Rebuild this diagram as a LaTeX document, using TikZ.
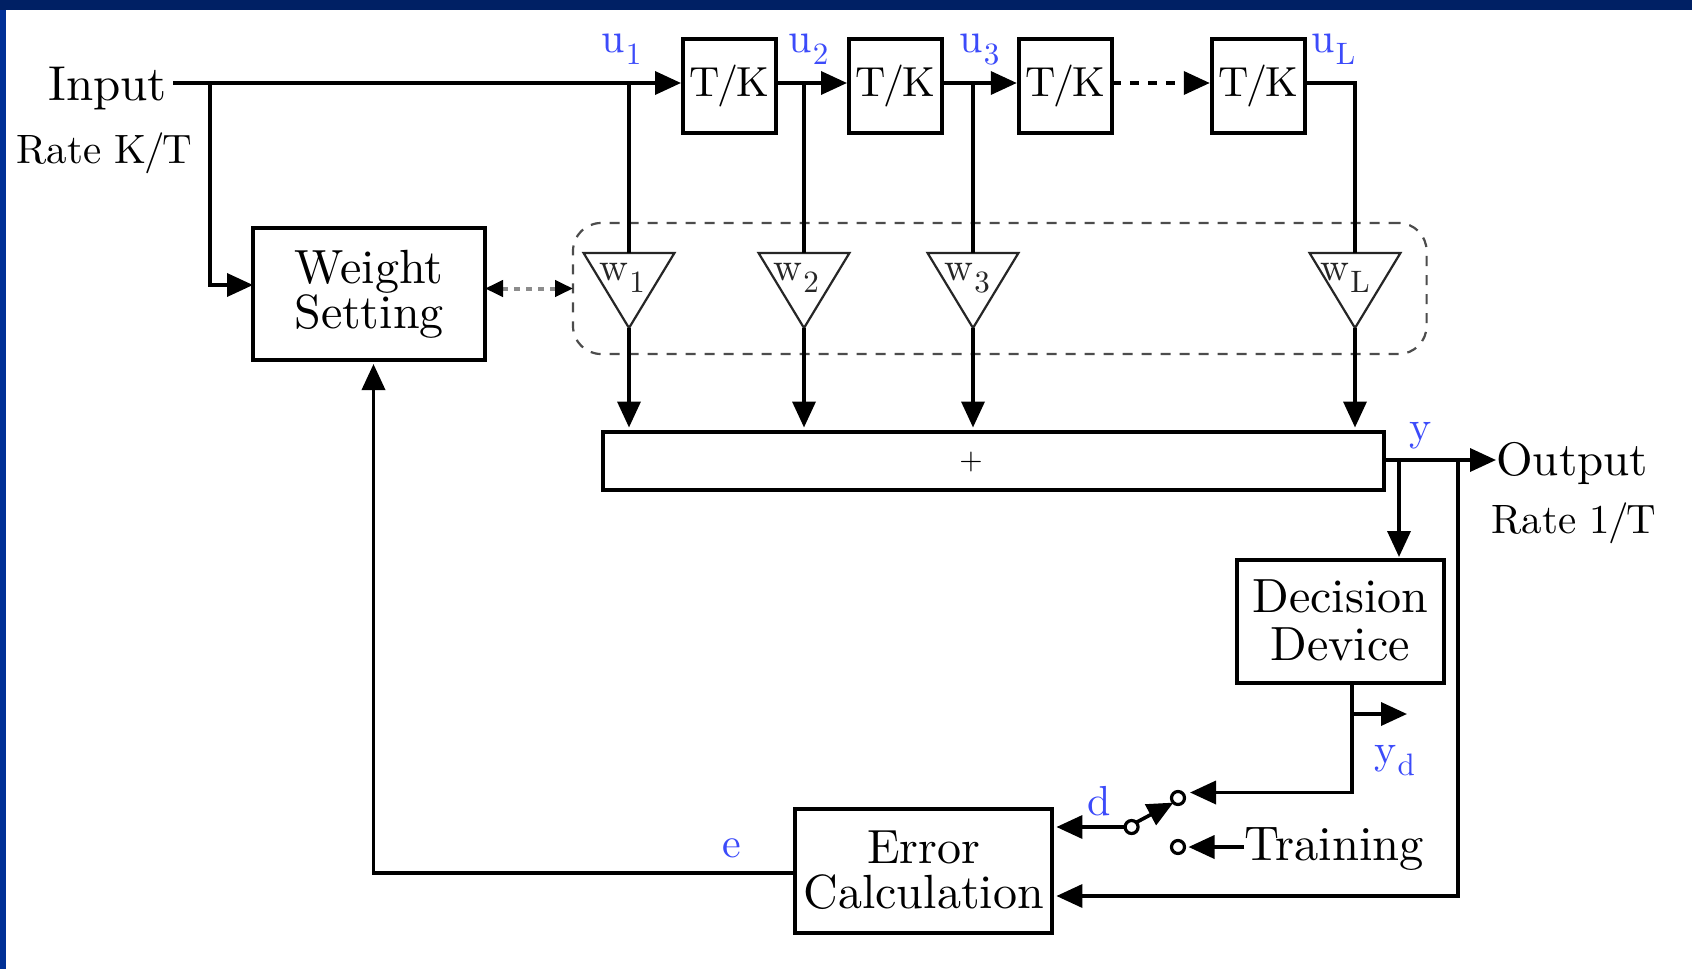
\documentclass[tikz,border=0pt]{standalone}
\usepackage{fontspec}
\setmainfont{lmroman10-regular.otf}
\usetikzlibrary{arrows.meta,shapes.geometric,calc}
\definecolor{lbl}{RGB}{60,75,250}
\newcommand{\fsz}[1]{\fontsize{#1}{#1}\selectfont}
\newcommand{\sbs}[2]{#1\kern0.5pt\raisebox{-6pt}{\fsz{15.5}#2}}
\newcommand{\tk}{\raisebox{2pt}{T\kern-1pt/\kern-1pt K}}
\tikzset{
  x=0.5pt,y=-0.5pt,
  wire/.style={line width=1.8pt,line join=miter},
  arw/.style={wire,-{Triangle[length=13pt,width=11.5pt]}},
  blockbox/.style={draw,line width=2pt,fill=none,inner sep=0pt,outer sep=0pt,align=center,font=\fsz{24}},
  tkbox/.style={blockbox,minimum width=46.5pt,minimum height=47pt,font=\fsz{21}},
  gain/.style={draw=black!85,line width=1.1pt,isosceles triangle,isosceles triangle apex angle=62.4,shape border rotate=270,minimum height=37.5pt,inner sep=0pt,outer sep=0pt,anchor=apex},
  blue lab/.style={text=lbl,font=\fsz{21},anchor=base west,inner sep=0pt},
  gain lab/.style={text=black!85,font=\fsz{20},anchor=base west,inner sep=0pt},
  plain lab/.style={anchor=base west,inner sep=0pt},
  group/.style={draw=black!70,line width=1.1pt,dash pattern=on 5pt off 4.5pt,rounded corners=14pt,minimum width=426.8pt,minimum height=65.5pt,inner sep=0pt,outer sep=0pt},
  contact/.style={circle,draw,line width=1.6pt,minimum size=6.5pt,inner sep=0pt,outer sep=0pt},
}
\begin{document}
\begin{tikzpicture}
\useasboundingbox (0,0) rectangle (1692,969);
\fill[white] (0,0) rectangle (1692,969);
\fill[fill={rgb,255:red,0;green,48;blue,150}] (0,0) rectangle (6,969);
\fill[fill={rgb,255:red,0;green,32;blue,100}] (0,0) rectangle (1692,10);

% delay line
\node[tkbox] (tk1) at (729.5,86) {\tk};
\node[tkbox] (tk2) at (895.5,86) {\tk};
\node[tkbox] (tk3) at (1065.3,86) {\tk};
\node[tkbox] (tk4) at (1258.3,86) {\tk};

% blocks
\node[blockbox,minimum width=116pt,minimum height=66pt] (ws) at (369,294) {\raisebox{-1pt}{Weight}\\[-1.5pt]\raisebox{-1pt}{Setting}};
\node[blockbox,minimum width=390.5pt,minimum height=29pt,font=\fsz{14.5}] (sum) at (993.3,460.5) {};
\node[inner sep=0pt,font=\fsz{15}] (plus) at (971,462) {+};
\node[blockbox,minimum width=103.3pt,minimum height=61.5pt] (dd) at (1340.3,621.5) {\raisebox{1.5pt}{Decision}\\\raisebox{1.5pt}{Device}};
\node[blockbox,minimum width=128.7pt,minimum height=62pt] (ec) at (923.7,871) {\raisebox{1.5pt}{Error}\\[-1.5pt]\raisebox{1.5pt}{Calculation}};

% weights
\node[gain] (w1) at (629,328) {};
\node[gain] (w2) at (804,328) {};
\node[gain] (w3) at (973,328) {};
\node[gain] (wL) at (1355,328) {};
\node[group] (grp) at (999.8,288.5) {};

% text
\node[plain lab,font=\fsz{24.5}] (inp) at (48,100) {Input};
\node[plain lab,font=\fsz{20.5}] (rk) at (16,163) {Rate K\kern-1.2pt/\kern-1.2pt T};
\node[plain lab,font=\fsz{23.5}] (out) at (1496,475) {Output};
\node[plain lab,font=\fsz{20.5}] (r1) at (1491,533) {Rate 1\kern-1.2pt/\kern-1.2pt T};
\node[plain lab,font=\fsz{24.3}] (tr) at (1244,860) {Training};

\node[blue lab] (lu1) at (601,52) {\sbs{u}{1}};
\node[blue lab] (lu2) at (788,52) {\sbs{u}{2}};
\node[blue lab] (lu3) at (959,52) {\sbs{u}{3}};
\node[blue lab] (luL) at (1311,52) {\sbs{u}{L}};
\node[gain lab] (lw1) at (599,280) {\sbs{w}{1}};
\node[gain lab] (lw2) at (773,280) {\sbs{w}{2}};
\node[gain lab] (lw3) at (944,280) {\sbs{w}{3}};
\node[gain lab] (lwL) at (1320,280) {\sbs{w}{L}};
\node[blue lab] (ly) at (1409,440) {y};
\node[blue lab] (lyd) at (1374,763) {\sbs{y}{d}};
\node[blue lab] (ld) at (1087,815) {d};
\node[blue lab] (le) at (722,857) {e};

% switch
\node[contact] (c1) at (1178,798) {};
\node[contact] (c0) at (1131.6,827) {};
\node[contact] (c2) at (1178,847) {};

% free ends and junctions
\coordinate (inS) at (173,83);
\coordinate (jWS) at (210,83);
\coordinate (wsIn) at (253,285);
\coordinate (t1) at (629,83);
\coordinate (t2) at (804,83);
\coordinate (t3) at (973,83);
\coordinate (tL) at (1355,83);
\coordinate (jOut) at (1399,460);
\coordinate (jFb) at (1458,460);
\coordinate (jYd) at (1352,714);
\coordinate (ydE) at (1407,714);
\coordinate (swT) at (1352,792.5);
\coordinate (swE) at (1190,792.5);
\coordinate (fbE) at (1458,896);
\coordinate (fbW) at (373.5,873);

% connectors
\draw[arw,shorten >=1pt] (inS) -- (tk1.west |- inS);
\draw[arw] (jWS) -- (jWS |- wsIn) -- (wsIn);
\draw[wire] (t1) -- (w1.lower side);
\draw[wire] (tk1.east |- t2) -- (t2) -- (w2.lower side);
\draw[arw,shorten >=1pt] (t2) -- (tk2.west |- t2);
\draw[wire] (tk2.east |- t3) -- (t3) -- (w3.lower side);
\draw[arw,shorten >=1pt] (t3) -- (tk3.west |- t3);
\draw[arw,shorten >=1pt,dash pattern=on 4.5pt off 4.5pt] (tk3.east |- t3) -- (tk4.west |- t3);
\draw[wire] (tk4.east |- tL) -- (tL) -- (wL.lower side);
\draw[arw,shorten >=2pt] (w1.apex) -- (w1.apex |- sum.north);
\draw[arw,shorten >=2pt] (w2.apex) -- (w2.apex |- sum.north);
\draw[arw,shorten >=2pt] (w3.apex) -- (w3.apex |- sum.north);
\draw[arw,shorten >=2pt] (wL.apex) -- (wL.apex |- sum.north);
\draw[line width=2pt,black!45,dash pattern=on 3pt off 3pt,{Triangle[length=9pt,width=8pt,black]}-{Triangle[length=9pt,width=8pt,black]}] (ws.east |- grp.west) -- (grp.west);
\draw[arw] (sum.east |- jOut) -- (out.west |- jOut);
\draw[arw,shorten >=1.5pt] (jOut) -- (jOut |- dd.north);
\draw[arw,shorten >=2pt] (jFb) -- (fbE) -- (ec.east |- fbE);
\draw[wire] (jYd |- dd.south) -- (jYd);
\draw[arw] (jYd) -- (ydE);
\draw[arw] (jYd) -- (swT) -- (swE);
\draw[arw,shorten >=2pt] (tr.west |- c2) -- (c2.east);
\draw[arw] (c0.north east) -- (c1.south west);
\draw[arw,shorten >=2pt] (c0.west) -- (ec.east |- c0.west);
\draw[arw,shorten >=2pt] (ec.west |- fbW) -- (fbW) -- (fbW |- ws.south);
\end{tikzpicture}
\end{document}
